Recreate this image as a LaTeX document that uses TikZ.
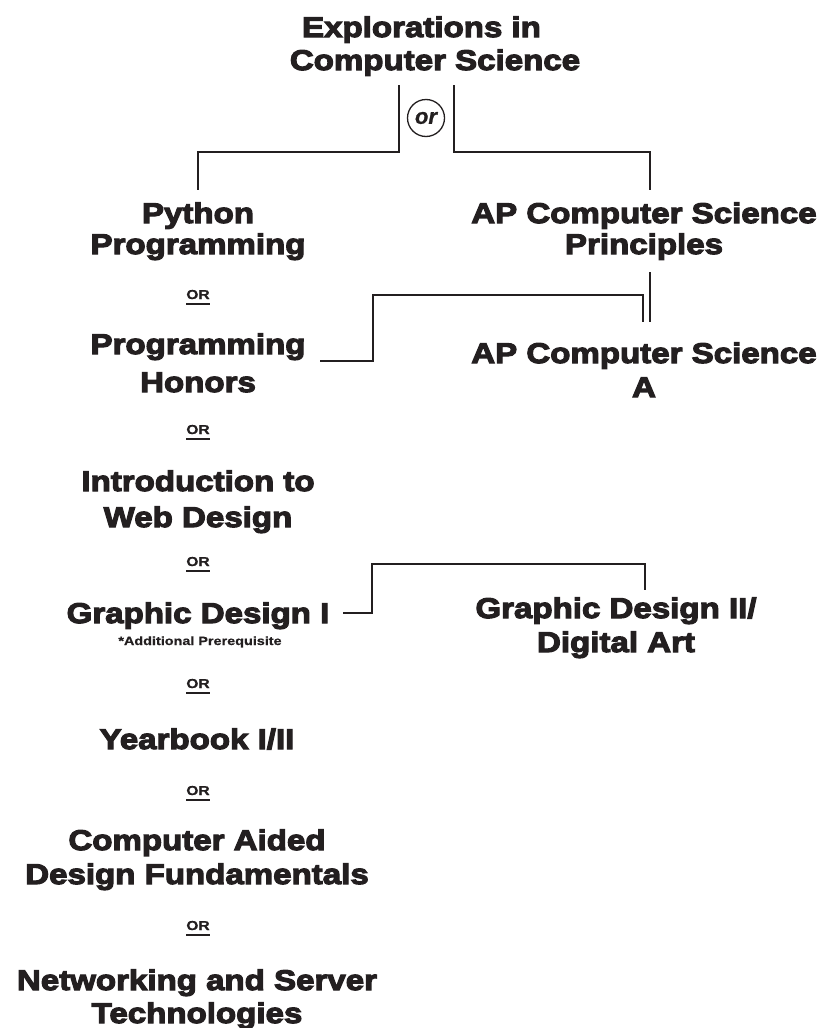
\documentclass[tikz,border=0pt]{standalone}
\usepackage{fontspec}
\newfontfamily\heavy{Liberation Sans Bold}[FakeBold=4,FakeStretch=1.16]
\newfontfamily\smallbf{Liberation Sans Bold}[FakeBold=0.6,FakeStretch=1.2]
\newfontfamily\orital{Liberation Sans Bold Italic}[FakeBold=1]
\definecolor{ink}{HTML}{231F20}
\begin{document}
\begin{tikzpicture}[x=1pt,y=-1pt,
  course/.style={font=\heavy\fontsize{28.5}{33}\selectfont, align=center, inner sep=0pt, anchor=base, text=ink},
  orlabel/.style={font=\smallbf\fontsize{13}{15}\selectfont, inner sep=0pt, anchor=base, text=ink},
  note/.style={font=\smallbf\fontsize{12}{14}\selectfont, inner sep=0pt, anchor=base, text=ink},
  conn/.style={draw=ink, line width=1.6pt},
  uline/.style={draw=ink, line width=1.2pt}]
\useasboundingbox (0,0) rectangle (826,1028);
\fill[white] (0,0) rectangle (826,1028);

% courses (base anchor = baseline of the last line)
\node[course] (title) at (435,70) {Explorations in\hspace*{27pt}\\Computer Science};
\node[course] (py) at (198,254) {Python\\[-2pt]Programming};
\node[course] (csp) at (644,254) {AP Computer Science\\[-2pt]Principles};
\node[course] (ph) at (198,392) {Programming\\[5pt]Honors};
\node[course] (csa) at (644,397) {AP Computer Science\\[1pt]A};
\node[course] (web) at (198,527) {Introduction to\\[3pt]Web Design};
\node[course] (gd1) at (198,623) {Graphic Design I};
\node[note] (pre) at (200,645) {*Additional Prerequisite};
\node[course] (gd2) at (616,652) {Graphic Design II/\\[1pt]Digital Art};
\node[course] (yb) at (197,749) {Yearbook I/II};
\node[course] (cad) at (197,884) {Computer Aided\\[1pt]Design Fundamentals};
\node[course] (net) at (197,1023) {Networking and Server\\Technologies};

% or circle
\node[circle, draw=ink, line width=1.3pt, minimum size=37pt, inner sep=0pt, text=ink,
      font=\orital\fontsize{22}{22}\selectfont] (orc) at (426,118) {or};

% OR labels
\foreach \n/\y in {o1/299, o2/434, o3/566, o4/688, o5/795, o6/930} {
  \node[orlabel] (\n) at (198,\y) {OR};
  \draw[uline] ([yshift=-5pt]\n.base west) -- ([yshift=-5pt]\n.base east);
}

% connector coordinates
\coordinate (tl) at (399,85);
\coordinate (tr) at (454,85);
\coordinate (pyTop) at (198,190);
\coordinate (cspTop) at (650,190);
\coordinate (phEnd) at (320,361);
\coordinate (csaTop) at (643,322);
\coordinate (cspBot) at (650,272);
\coordinate (csaTop2) at (650,322);
\coordinate (gd1End) at (343,613);
\coordinate (gd2Top) at (645,590);

\draw[conn] (tl) -- (399,152) -| (pyTop);
\draw[conn] (tr) -- (454,152) -| (cspTop);
\draw[conn] (phEnd) -- (373,361) -- (373,295) -| (csaTop);
\draw[conn] (cspBot) -- (csaTop2);
\draw[conn] (gd1End) -- (372,613) -- (372,564) -| (gd2Top);
\end{tikzpicture}
\end{document}
